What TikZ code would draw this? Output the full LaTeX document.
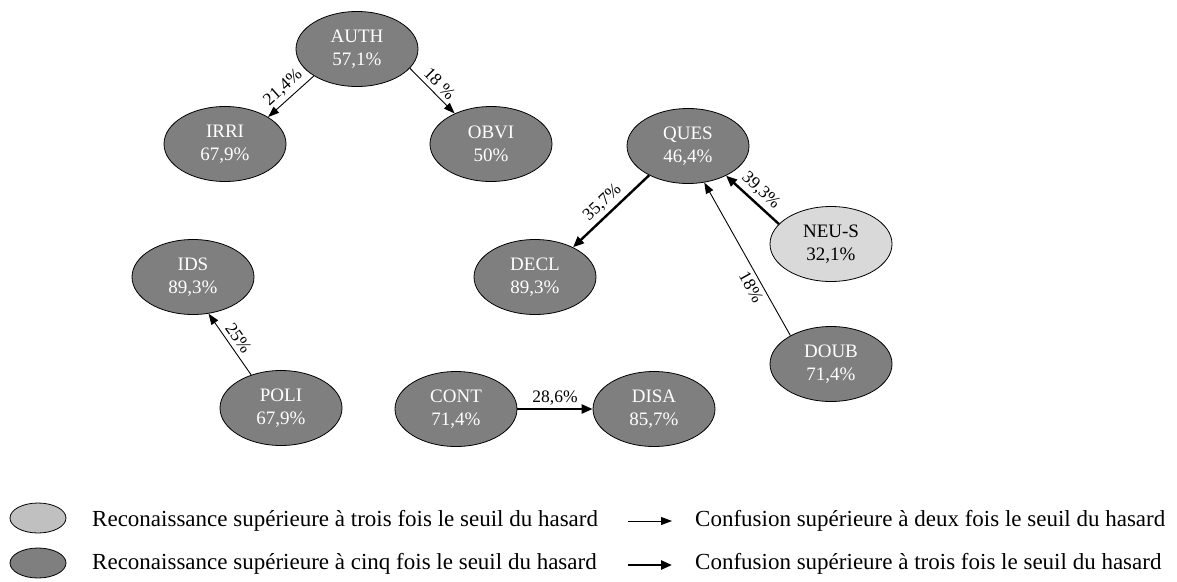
\documentclass[tikz,border=0pt]{standalone}
\usepackage{fontspec}
\setmainfont{Liberation Serif}
\usepackage{tikz}
\usetikzlibrary{arrows.meta, shapes.geometric}
\definecolor{gris}{RGB}{127,127,127}
\definecolor{grisclair}{RGB}{217,217,217}
\definecolor{grislegende}{RGB}{192,192,192}

\begin{document}
\begin{tikzpicture}[x=1pt,y=-1pt,
  reco/.style={ellipse, draw=black, line width=0.8pt, minimum width=122pt, minimum height=75pt, inner sep=0pt, align=center, font=\fontsize{19}{23}\selectfont},
  cinq/.style={reco, fill=gris, text=white},
  trois/.style={reco, fill=grisclair, text=black},
  conf/.style={line width=0.9pt, -{Triangle[length=11pt,width=8pt]}},
  conffort/.style={line width=2.4pt, -{Triangle[length=11pt,width=9pt]}},
  taux/.style={font=\fontsize{17.5}{17.5}\selectfont, sloped, inner sep=4pt},
  legende/.style={anchor=west, inner sep=0pt, font=\fontsize{23}{23}\selectfont}]
  \useasboundingbox (0,0) rectangle (1177,581);

  \node[cinq] (auth) at (357,49) {AUTH\\57,1\%};
  \node[cinq] (irri) at (225,144) {IRRI\\67,9\%};
  \node[cinq] (obvi) at (491,144) {OBVI\\50\%};
  \node[cinq] (ques) at (688,146) {QUES\\46,4\%};
  \node[trois] (neus) at (831,244) {NEU-S\\32,1\%};
  \node[cinq] (decl) at (535,277) {DECL\\89,3\%};
  \node[cinq] (ids) at (193,277) {IDS\\89,3\%};
  \node[cinq] (poli) at (281,408) {POLI\\67,9\%};
  \node[cinq] (cont) at (456,409) {CONT\\71,4\%};
  \node[cinq] (disa) at (654,409) {DISA\\85,7\%};
  \node[cinq] (doub) at (831,364) {DOUB\\71,4\%};

  \draw[conf] (auth.212) -- node[taux, above] {21,4\%} (irri.32);
  \draw[conf] (auth.340) -- node[taux, above] {18 \%} (obvi.140);
  \draw[conffort] (neus.159) -- node[taux, above] {39,3\%} (ques.322);
  \draw[conffort] (ques.217) -- node[taux, above] {35,7\%} (decl.38);
  \draw[conf] (doub.145) -- node[taux, below, pos=0.35] {18\%} (ques.294);
  \draw[conf] (poli.132) -- node[taux, above] {25\%} (ids.293);
  \draw[conffort] (cont.east) -- node[taux, above, inner sep=3pt] {28,6\%} (disa.west);

  \node[ellipse, draw=black, line width=0.8pt, fill=grislegende, minimum width=56pt, minimum height=30pt] (legtrois) at (38,518) {};
  \node[ellipse, draw=black, line width=0.8pt, fill=gris, minimum width=56pt, minimum height=30pt] (legcinq) at (38,563) {};
  \node[legende] (txttrois) at (92,521) {Reconaissance supérieure à trois fois le seuil du hasard};
  \node[legende] (txtcinq) at (92,564) {Reconaissance supérieure à cinq fois le seuil du hasard};
  \coordinate (confa) at (628,521);
  \coordinate (confb) at (672,521);
  \coordinate (fortea) at (628,565);
  \coordinate (forteb) at (672,565);
  \draw[conf] (confa) -- (confb);
  \draw[conffort] (fortea) -- (forteb);
  \node[legende] (txtdeux) at (695,521) {Confusion supérieure à deux fois le seuil du hasard};
  \node[legende] (txtconf) at (695,564) {Confusion supérieure à trois fois le seuil du hasard};
\end{tikzpicture}
\end{document}
